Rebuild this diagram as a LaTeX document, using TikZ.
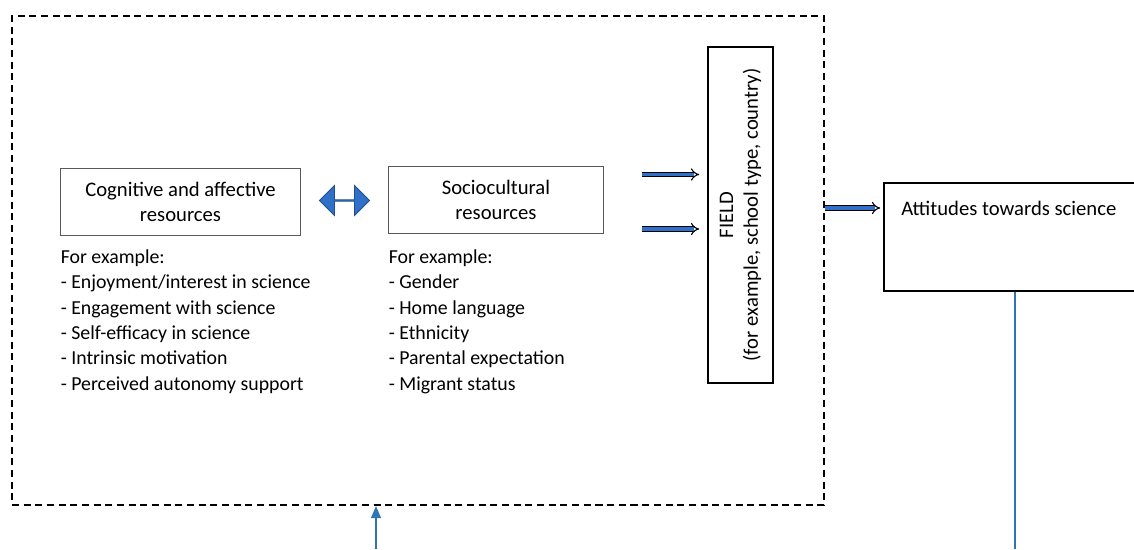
\documentclass[tikz,border=0pt]{standalone}
\usepackage{fontspec}
\setmainfont{Carlito}
\usetikzlibrary{arrows.meta,shapes.arrows,calc}

\definecolor{loopblue}{RGB}{46,117,182}
\definecolor{linkblue}{RGB}{47,112,200}

\begin{document}
\begin{tikzpicture}[
    x=0.025cm, y=0.025cm,
    font=\fontsize{14.7}{17.7}\selectfont,
    resbox/.style={draw=black!65, line width=0.7pt, minimum height=1.675cm,
        align=center, inner sep=0pt},
    listtext/.style={align=left, inner sep=0pt, anchor=north west,
        font=\fontsize{14.1}{18}\selectfont},
    blockarrow/.style={double=linkblue, double distance=2.2pt, line width=0.8pt,
        -{Implies}},
    loopline/.style={draw=loopblue, line width=1.4pt}
]

    \clip (0,0) rectangle (1134,549);

    % Dashed frame round the resources and the field
    \node[draw, dashed, dash pattern=on 5pt off 3.3pt, line width=1.4pt,
        minimum width=20.3cm, minimum height=12.225cm] (frame) at (418,288.5) {};

    % Resource boxes
    \node[resbox, minimum width=5.975cm] (cog) at (180.5,347.5)
        {Cognitive and affective\\resources};
    \node[resbox, minimum width=5.35cm] (soc) at (496,349.5)
        {Sociocultural\\resources};

    % Two-way link between them
    \node[double arrow, fill=linkblue, draw=linkblue!70!black, line width=0.6pt,
        inner sep=0pt, minimum width=0.75cm, minimum height=1.25cm,
        double arrow head extend=0.22cm]
        (link) at ($(cog.east)!0.5!(soc.west)$) {};

    % Examples
    \node[listtext] (coglist) at ($(cog.south west)+(0,-14)$) {For example:\\
        - Enjoyment/interest in science\\
        - Engagement with science\\
        - Self-efficacy in science\\
        - Intrinsic motivation\\
        - Perceived autonomy support};
    \node[listtext] (soclist) at (coglist.north -| soc.west) {For example:\\
        - Gender\\
        - Home language\\
        - Ethnicity\\
        - Parental expectation\\
        - Migrant status};

    % Field
    \node[draw, line width=1.1pt, rotate=90, minimum width=8.4cm,
        minimum height=1.625cm, align=center] (field) at (740.5,334)
        {FIELD\\(for example, school type, country)};

    \coordinate (in1) at ($(soc.east)+(38,25)$);
    \coordinate (in2) at ($(soc.east)+(38,-29.5)$);
    \draw[blockarrow, shorten >=0.2cm] (in1) -- (in1 -| field.north);
    \draw[blockarrow, shorten >=0.2cm] (in2) -- (in2 -| field.north);

    % Outcome
    \node[draw, line width=1.1pt, minimum width=7cm, minimum height=2.7cm,
        anchor=north west] (att) at (883,367) {};
    \node[anchor=west, inner sep=0pt] (atttext) at ($(att.north west)+(18,-26)$)
        {Attitudes towards science};

    \draw[blockarrow, shorten >=2pt] (frame.east |- atttext) -- (att.west |- atttext);

    % Feedback loop
    \coordinate (loopR) at (1015,0);
    \coordinate (loopL) at (376,0);
    \draw[loopline] (att.south -| loopR) -- (loopR);
    \draw[loopline, line width=0.8pt, -{Triangle[width=7pt,length=8.5pt]}]
        (loopL) -- (loopL |- frame.south);

\end{tikzpicture}
\end{document}
